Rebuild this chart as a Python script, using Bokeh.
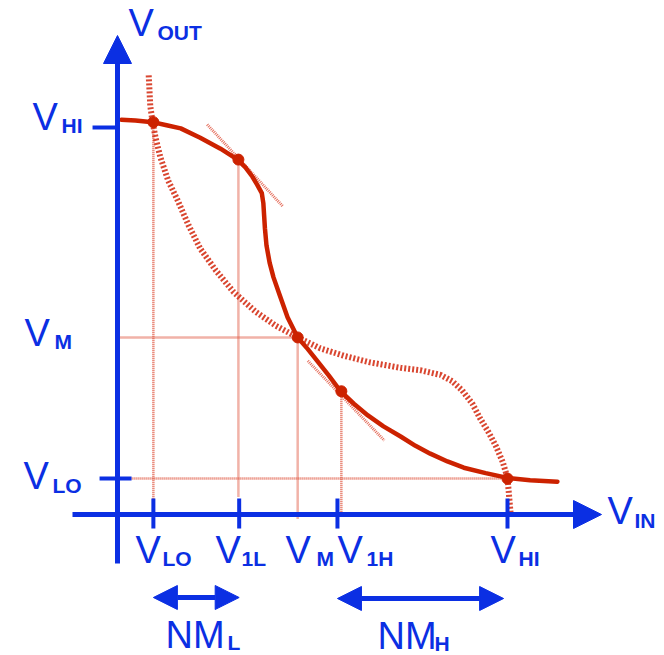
from bokeh.plotting import figure
from bokeh.models import Arrow, NormalHead, Range1d
from bokeh.core.properties import value
from bokeh.embed import file_html
from bokeh.resources import INLINE

# ---------------- data (volts) ----------------
# inverter transfer characteristic V_OUT(V_IN)
vtc_vin = [0.05, 0.23, 0.45, 0.63, 0.81, 1.06, 1.32, 1.54, 1.64, 1.73, 1.79, 1.85,
           1.87, 1.88, 1.89, 1.91, 1.95, 2.00, 2.08, 2.18, 2.31, 2.44, 2.56, 2.71,
           2.86, 3.03, 3.21, 3.41, 3.63, 3.82, 4.01, 4.23, 4.44, 4.72, 5.00, 5.29, 5.64]
vtc_vout = [5.06, 5.05, 5.03, 4.99, 4.95, 4.83, 4.69, 4.55, 4.45, 4.33, 4.23, 4.12,
            3.99, 3.83, 3.67, 3.45, 3.23, 3.04, 2.81, 2.53, 2.27, 2.12, 1.97, 1.78,
            1.58, 1.42, 1.27, 1.13, 1.00, 0.88, 0.78, 0.68, 0.60, 0.53, 0.47, 0.44, 0.42]
# mirrored characteristic (hatched)
mir_vin = [0.40, 0.41, 0.42, 0.45, 0.49, 0.55, 0.65, 0.77, 0.91, 1.06, 1.26, 1.49,
           1.77, 2.03, 2.31, 2.60, 2.92, 3.24, 3.63, 3.88, 4.14, 4.29, 4.42, 4.55,
           4.65, 4.76, 4.85, 4.94, 5.00, 5.04]
mir_vout = [5.63, 5.44, 5.24, 5.03, 4.82, 4.58, 4.28, 4.03, 3.71, 3.41, 3.13, 2.85,
            2.60, 2.42, 2.27, 2.13, 2.03, 1.95, 1.88, 1.85, 1.79, 1.71, 1.59, 1.42,
            1.23, 1.05, 0.88, 0.67, 0.47, 0.01]
# characteristic points: V_LO, V_1L, V_M, V_1H, V_HI
pt_vin = [0.46, 1.55, 2.31, 2.87, 5.00]
pt_vout = [5.03, 4.55, 2.27, 1.58, 0.46]
# tangent (slope -1) segments at V_1L and V_1H
tan_x0 = [1.15, 2.44]
tan_y0 = [5.00, 1.97]
tan_x1 = [2.12, 3.42]
tan_y1 = [3.95, 0.95]
# axis tick positions
xtick_names = ["LO", "1L", "1H", "HI"]
xtick_vals = [0.46, 1.56, 2.82, 5.00]
ytick_names = ["HI", "LO"]
ytick_vals = [4.96, 0.46]

# ---------------- layout helpers ----------------
PXV = 78.0             # pixels per volt
OX, OY = 117.0, 514.0  # origin in page pixels
W, H = 664, 655

def px(xp, yp):
    return (xp - OX) / PXV, (OY - yp) / PXV

BLUE = "#0b2fe3"
RED = "#cc2200"
HATCH = "#d5321a"
THIN = "#e0553f"
FONT = value("Liberation Sans")

p = figure(width=W, height=H, output_backend="svg", toolbar_location=None,
           x_range=Range1d((0 - OX) / PXV, (W - OX) / PXV),
           y_range=Range1d((OY - H) / PXV, OY / PXV),
           x_axis_location=None, y_axis_location=None, min_border=0)
p.grid.visible = False
p.outline_line_color = None
p.background_fill_color = "white"

# ---------------- reference lines (thin hatched) ----------------
xs_v = [pt_vin[0], pt_vin[1], pt_vin[2], pt_vin[3]]
p.segment(x0=xs_v, y0=[pt_vout[0], pt_vout[1], pt_vout[2], pt_vout[3]],
          x1=xs_v, y1=[0.0, 0.22, -0.06, -0.01],
          line_color=THIN, line_width=2.5, line_alpha=0.9, line_dash="1 1")
p.segment(x0=[0.0, -0.05], y0=[pt_vout[2], pt_vout[4]],
          x1=[pt_vin[2], pt_vin[4]], y1=[pt_vout[2], pt_vout[4]],
          line_color=THIN, line_width=2.5, line_alpha=0.9, line_dash="1 1")
p.segment(x0=tan_x0, y0=tan_y0, x1=tan_x1, y1=tan_y1,
          line_color=THIN, line_width=3, line_alpha=0.85, line_dash="1 1")

# ---------------- mirrored curve ----------------
p.line(mir_vin, mir_vout, line_color=HATCH, line_width=6, line_alpha=0.9,
       line_dash="2 2", line_join="round")

# ---------------- VTC ----------------
p.line(vtc_vin, vtc_vout, line_color=RED, line_width=4.5, line_join="round",
       line_cap="round")
p.scatter(pt_vin, pt_vout, size=11, fill_color=RED, line_color=RED)

# ---------------- axes ----------------
p.add_layout(Arrow(x_start=0.0, y_start=(OY - 563) / PXV, x_end=0.0, y_end=(OY - 35) / PXV,
                   line_color=BLUE, line_width=5,
                   end=NormalHead(size=28, fill_color=BLUE, line_color=BLUE)))
p.add_layout(Arrow(x_start=(72 - OX) / PXV, y_start=0.0, x_end=(601 - OX) / PXV, y_end=0.0,
                   line_color=BLUE, line_width=5,
                   end=NormalHead(size=28, fill_color=BLUE, line_color=BLUE)))
# ticks
p.segment(x0=xtick_vals, y0=[0.205] * len(xtick_vals), x1=xtick_vals,
          y1=[-0.18] * len(xtick_vals), line_color=BLUE, line_width=4)
p.segment(x0=[-0.32, -0.23], y0=ytick_vals, x1=[0.0, 0.18], y1=ytick_vals,
          line_color=BLUE, line_width=4)

# noise-margin arrows
p.add_layout(Arrow(x_start=xtick_vals[0], y_start=(OY - 597) / PXV,
                   x_end=xtick_vals[1], y_end=(OY - 597) / PXV,
                   line_color=BLUE, line_width=5,
                   start=NormalHead(size=24, fill_color=BLUE, line_color=BLUE),
                   end=NormalHead(size=24, fill_color=BLUE, line_color=BLUE)))
p.add_layout(Arrow(x_start=xtick_vals[2], y_start=(OY - 598) / PXV,
                   x_end=xtick_vals[3] - 0.05, y_end=(OY - 598) / PXV,
                   line_color=BLUE, line_width=5,
                   start=NormalHead(size=24, fill_color=BLUE, line_color=BLUE),
                   end=NormalHead(size=24, fill_color=BLUE, line_color=BLUE)))

# ---------------- labels ----------------
# (main text, subscript, V left px, V baseline px, sub left px, sub baseline px)
labels = [
    ("V", "OUT", 128, 35, 157, 40),
    ("V", "HI", 32, 129, 61, 133),
    ("V", "M", 24, 345, 54, 349),
    ("V", "LO", 23, 488, 52, 493),
    ("V", "LO", 135, 562, 162, 566),
    ("V", "1L", 215, 562, 241, 566),
    ("V", "M", 285, 562, 316, 566),
    ("V", "1H", 337, 562, 366, 566),
    ("V", "HI", 490, 562, 518, 566),
    ("V", "IN", 607, 523, 634, 528),
    ("NM", "L", 165, 647, 227, 650),
    ("NM", "H", 377, 648, 434, 651),
]
MAIN_SHIFT, SUB_SHIFT = 13, 8   # renderer baseline correction (px)
mx, my, mt, sx, sy, st = [], [], [], [], [], []
for main, sub, vx, vy, qx, qy in labels:
    a, b = px(vx, vy - MAIN_SHIFT)
    mx.append(a); my.append(b); mt.append(main)
    a, b = px(qx, qy - SUB_SHIFT)
    sx.append(a); sy.append(b); st.append(sub)

p.text(x=mx, y=my, text=mt, text_font=FONT, text_font_size="38px",
       text_color=BLUE, text_align="left", text_baseline="alphabetic")
p.text(x=sx, y=sy, text=st, text_font=FONT, text_font_size="21px",
       text_font_style="bold", text_color=BLUE, text_align="left",
       text_baseline="alphabetic")

open("out.html", "w").write(file_html(p, INLINE))
